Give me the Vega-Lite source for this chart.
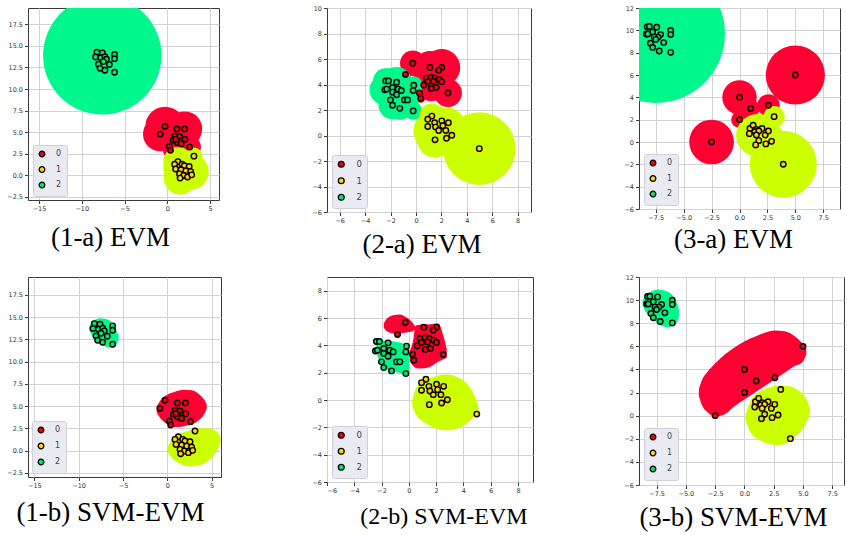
{
  "$schema": "https://vega.github.io/schema/vega-lite/v6.json",
  "padding": {"left": 6, "top": 4, "right": 0, "bottom": 0},
  "background": "white",
  "columns": 3,
  "align": "each",
  "bounds": "flush",
  "center": false,
  "spacing": {"row": 65, "column": 106},
  "resolve": {
    "scale": {"x": "independent", "y": "independent", "fill": "independent", "color": "independent", "size": "independent"},
    "legend": {"fill": "independent"}
  },
  "config": {
    "view": {"stroke": "#3a3a3a", "strokeWidth": 1},
    "axis": {"grid": true, "gridColor": "#d3d3d3", "gridWidth": 1, "domain": false, "tickColor": "#3a3a3a", "tickSize": 3.5, "labelFont": "DejaVu Sans", "labelFontSize": 6.5, "labelColor": "#333333", "labelPadding": 2},
    "title": {"font": "Liberation Serif", "fontSize": 27, "fontWeight": "normal", "color": "#000000", "orient": "bottom", "anchor": "middle", "baseline": "alphabetic"}
  },
  "datasets": {
    "pts1": [
      {"cls": "2", "x": -8.23, "y": 14.27}, {"cls": "2", "x": -7.59, "y": 14.19}, {"cls": "2", "x": -8.38, "y": 13.71}, {"cls": "2", "x": -7.78, "y": 13.63}, {"cls": "2", "x": -7.29, "y": 13.75}, {"cls": "2", "x": -7.11, "y": 13.45}, {"cls": "2", "x": -8.05, "y": 12.88}, {"cls": "2", "x": -7.48, "y": 13.18}, {"cls": "2", "x": -6.77, "y": 12.85}, {"cls": "2", "x": -6.17, "y": 14.01}, {"cls": "2", "x": -6.17, "y": 13.52}, {"cls": "2", "x": -7.86, "y": 12.4}, {"cls": "2", "x": -7.29, "y": 12.17}, {"cls": "2", "x": -6.17, "y": 11.95},
      {"cls": "0", "x": -0.26, "y": 5.66}, {"cls": "0", "x": -0.83, "y": 4.76}, {"cls": "0", "x": 1.13, "y": 5.36}, {"cls": "0", "x": 2.03, "y": 5.36}, {"cls": "0", "x": 0.86, "y": 4.53}, {"cls": "0", "x": 1.43, "y": 4.46}, {"cls": "0", "x": 1.73, "y": 4.01}, {"cls": "0", "x": 0.68, "y": 4.08}, {"cls": "0", "x": 1.17, "y": 3.78}, {"cls": "0", "x": 2.07, "y": 4.16}, {"cls": "0", "x": 1.62, "y": 3.63}, {"cls": "0", "x": 0.23, "y": 3.33}, {"cls": "0", "x": 0.38, "y": 2.88}, {"cls": "0", "x": 2.63, "y": 3.26}, {"cls": "0", "x": 0.98, "y": 4.16},
      {"cls": "1", "x": 1.24, "y": 1.57}, {"cls": "1", "x": 0.86, "y": 1.27}, {"cls": "1", "x": 0.98, "y": 0.71}, {"cls": "1", "x": 1.73, "y": 1.27}, {"cls": "1", "x": 1.99, "y": 1.09}, {"cls": "1", "x": 2.56, "y": 1.01}, {"cls": "1", "x": 1.62, "y": 0.64}, {"cls": "1", "x": 2.18, "y": 0.52}, {"cls": "1", "x": 2.74, "y": 0.41}, {"cls": "1", "x": 1.43, "y": 0.15}, {"cls": "1", "x": 1.92, "y": -0.04}, {"cls": "1", "x": 2.37, "y": -0.22}, {"cls": "1", "x": 2.86, "y": 0.04}, {"cls": "1", "x": 1.5, "y": -0.34}, {"cls": "1", "x": 3.12, "y": 2.21}
    ],
    "pts2": [
      {"cls": "0", "x": -0.25, "y": 5.67}, {"cls": "0", "x": -0.83, "y": 4.79}, {"cls": "0", "x": 1.1, "y": 5.33}, {"cls": "0", "x": 2.03, "y": 5.33}, {"cls": "0", "x": 1.79, "y": 5.11}, {"cls": "0", "x": 0.81, "y": 4.5}, {"cls": "0", "x": 1.18, "y": 4.55}, {"cls": "0", "x": 1.5, "y": 4.5}, {"cls": "0", "x": 1.84, "y": 4.38}, {"cls": "0", "x": 0.93, "y": 4.21}, {"cls": "0", "x": 1.37, "y": 4.25}, {"cls": "0", "x": 2.03, "y": 4.21}, {"cls": "0", "x": 0.61, "y": 3.96}, {"cls": "0", "x": 1.2, "y": 3.69}, {"cls": "0", "x": 1.59, "y": 3.77}, {"cls": "0", "x": 0.27, "y": 3.33}, {"cls": "0", "x": 0.37, "y": 2.91}, {"cls": "0", "x": 2.52, "y": 3.33},
      {"cls": "1", "x": 1.25, "y": 1.52}, {"cls": "1", "x": 0.93, "y": 1.27}, {"cls": "1", "x": 1.47, "y": 1.0}, {"cls": "1", "x": 2.03, "y": 1.15}, {"cls": "1", "x": 2.55, "y": 1.0}, {"cls": "1", "x": 0.93, "y": 0.71}, {"cls": "1", "x": 1.54, "y": 0.66}, {"cls": "1", "x": 2.11, "y": 0.76}, {"cls": "1", "x": 1.79, "y": 0.39}, {"cls": "1", "x": 2.35, "y": 0.39}, {"cls": "1", "x": 2.82, "y": 0.02}, {"cls": "1", "x": 1.5, "y": -0.34}, {"cls": "1", "x": 2.4, "y": -0.22}, {"cls": "1", "x": 4.98, "y": -1.03},
      {"cls": "2", "x": -2.38, "y": 4.28}, {"cls": "2", "x": -2.16, "y": 4.28}, {"cls": "2", "x": -1.52, "y": 4.18}, {"cls": "2", "x": -2.45, "y": 3.59}, {"cls": "2", "x": -2.3, "y": 3.64}, {"cls": "2", "x": -1.84, "y": 3.77}, {"cls": "2", "x": -1.4, "y": 3.64}, {"cls": "2", "x": -1.15, "y": 3.52}, {"cls": "2", "x": -1.84, "y": 3.4}, {"cls": "2", "x": -1.52, "y": 3.2}, {"cls": "2", "x": -0.17, "y": 3.94}, {"cls": "2", "x": -0.22, "y": 3.52}, {"cls": "2", "x": -2.01, "y": 2.79}, {"cls": "2", "x": -0.91, "y": 2.79}, {"cls": "2", "x": -0.66, "y": 2.79}, {"cls": "2", "x": -1.84, "y": 2.37}, {"cls": "2", "x": -1.27, "y": 2.13}, {"cls": "2", "x": -0.22, "y": 1.93}
    ],
    "pts3": [
      {"cls": "2", "x": -8.27, "y": 10.31}, {"cls": "2", "x": -8.07, "y": 10.34}, {"cls": "2", "x": -7.41, "y": 10.28}, {"cls": "2", "x": -7.78, "y": 9.85}, {"cls": "2", "x": -8.35, "y": 9.67}, {"cls": "2", "x": -8.21, "y": 9.67}, {"cls": "2", "x": -7.07, "y": 9.62}, {"cls": "2", "x": -7.3, "y": 9.39}, {"cls": "2", "x": -7.64, "y": 9.39}, {"cls": "2", "x": -7.5, "y": 9.19}, {"cls": "2", "x": -6.16, "y": 9.99}, {"cls": "2", "x": -6.16, "y": 9.62}, {"cls": "2", "x": -7.98, "y": 8.84}, {"cls": "2", "x": -6.79, "y": 8.9}, {"cls": "2", "x": -7.78, "y": 8.47}, {"cls": "2", "x": -7.19, "y": 8.15}, {"cls": "2", "x": -6.16, "y": 8.03},
      {"cls": "0", "x": -2.5, "y": 0.0}, {"cls": "0", "x": 0.0, "y": 4.0}, {"cls": "0", "x": 0.0, "y": 2.0}, {"cls": "0", "x": 1.0, "y": 3.0}, {"cls": "0", "x": 2.6, "y": 3.28}, {"cls": "0", "x": 5.0, "y": 6.0},
      {"cls": "1", "x": 0.94, "y": 1.21}, {"cls": "1", "x": 1.22, "y": 1.5}, {"cls": "1", "x": 1.51, "y": 1.12}, {"cls": "1", "x": 2.02, "y": 1.21}, {"cls": "1", "x": 0.88, "y": 0.75}, {"cls": "1", "x": 1.39, "y": 0.92}, {"cls": "1", "x": 1.73, "y": 0.98}, {"cls": "1", "x": 1.51, "y": 0.63}, {"cls": "1", "x": 2.3, "y": 0.63}, {"cls": "1", "x": 2.59, "y": 0.98}, {"cls": "1", "x": 1.73, "y": 0.12}, {"cls": "1", "x": 2.87, "y": 0.06}, {"cls": "1", "x": 1.45, "y": -0.26}, {"cls": "1", "x": 2.36, "y": -0.17}, {"cls": "1", "x": 3.92, "y": -1.99}, {"cls": "1", "x": 3.1, "y": 2.27}
    ],
    "balls1a": [
      {"region": "2", "x": -7.6, "y": 13.9, "r": 6.9},
      {"region": "0", "x": -0.26, "y": 5.66, "r": 2.3}, {"region": "0", "x": -0.83, "y": 4.76, "r": 2.0}, {"region": "0", "x": 2.03, "y": 5.36, "r": 2.05}, {"region": "0", "x": 1.13, "y": 5.36, "r": 1.8}, {"region": "0", "x": 2.63, "y": 3.26, "r": 1.3}, {"region": "0", "x": 0.38, "y": 2.88, "r": 0.9}, {"region": "0", "x": 1.17, "y": 3.78, "r": 1.5},
      {"region": "1", "x": 1.24, "y": 1.57, "r": 1.7}, {"region": "1", "x": 2.74, "y": 0.41, "r": 2.1}, {"region": "1", "x": 1.5, "y": -0.34, "r": 1.9}, {"region": "1", "x": 3.12, "y": 2.21, "r": 1.0}, {"region": "1", "x": 0.98, "y": 0.71, "r": 1.45}
    ],
    "balls2a": [
      {"region": "0", "x": -0.25, "y": 5.67, "r": 1.0}, {"region": "0", "x": -0.83, "y": 4.79, "r": 0.45}, {"region": "0", "x": 1.1, "y": 5.33, "r": 1.3}, {"region": "0", "x": 2.03, "y": 5.33, "r": 1.45}, {"region": "0", "x": 1.79, "y": 5.11, "r": 1.0}, {"region": "0", "x": 0.81, "y": 4.5, "r": 1.0}, {"region": "0", "x": 1.5, "y": 4.5, "r": 1.0}, {"region": "0", "x": 1.84, "y": 4.38, "r": 1.0}, {"region": "0", "x": 0.93, "y": 4.21, "r": 1.0}, {"region": "0", "x": 2.03, "y": 4.21, "r": 1.0}, {"region": "0", "x": 0.61, "y": 3.96, "r": 0.9}, {"region": "0", "x": 1.2, "y": 3.69, "r": 1.0}, {"region": "0", "x": 1.59, "y": 3.77, "r": 1.0}, {"region": "0", "x": 0.27, "y": 3.33, "r": 0.6}, {"region": "0", "x": 0.37, "y": 2.91, "r": 0.35}, {"region": "0", "x": 2.52, "y": 3.33, "r": 1.1},
      {"region": "2", "x": -2.38, "y": 4.28, "r": 1.0}, {"region": "2", "x": -2.16, "y": 4.28, "r": 1.0}, {"region": "2", "x": -1.52, "y": 4.18, "r": 1.2}, {"region": "2", "x": -2.45, "y": 3.59, "r": 1.2}, {"region": "2", "x": -2.3, "y": 3.64, "r": 1.0}, {"region": "2", "x": -1.84, "y": 3.77, "r": 1.0}, {"region": "2", "x": -1.4, "y": 3.64, "r": 1.0}, {"region": "2", "x": -1.15, "y": 3.52, "r": 1.0}, {"region": "2", "x": -1.84, "y": 3.4, "r": 1.0}, {"region": "2", "x": -1.52, "y": 3.2, "r": 1.0}, {"region": "2", "x": -0.17, "y": 3.94, "r": 0.7}, {"region": "2", "x": -0.22, "y": 3.52, "r": 0.7}, {"region": "2", "x": -2.01, "y": 2.79, "r": 1.0}, {"region": "2", "x": -0.91, "y": 2.79, "r": 1.0}, {"region": "2", "x": -0.66, "y": 2.79, "r": 0.9}, {"region": "2", "x": -1.84, "y": 2.37, "r": 1.1}, {"region": "2", "x": -1.27, "y": 2.13, "r": 0.9}, {"region": "2", "x": -0.22, "y": 1.93, "r": 0.7},
      {"region": "1", "x": 4.98, "y": -1.03, "r": 2.85}, {"region": "1", "x": 1.25, "y": 1.52, "r": 1.0}, {"region": "1", "x": 1.45, "y": 0.35, "r": 1.65}, {"region": "1", "x": 1.5, "y": -0.34, "r": 1.4}, {"region": "1", "x": 2.4, "y": 0.7, "r": 1.5}
    ],
    "balls3a": [
      {"region": "2", "x": -7.5, "y": 9.7, "r": 6.2},
      {"region": "0", "x": 5.0, "y": 6.0, "r": 2.65}, {"region": "0", "x": -2.5, "y": 0.0, "r": 2.0}, {"region": "0", "x": 0.0, "y": 4.0, "r": 1.54}, {"region": "0", "x": 0.0, "y": 2.0, "r": 0.75}, {"region": "0", "x": 1.0, "y": 3.0, "r": 0.8}, {"region": "0", "x": 2.6, "y": 3.28, "r": 1.0},
      {"region": "1", "x": 3.92, "y": -1.99, "r": 3.0}, {"region": "1", "x": 1.6, "y": 0.6, "r": 1.9}, {"region": "1", "x": 3.1, "y": 2.27, "r": 0.95}, {"region": "1", "x": 2.3, "y": 0.4, "r": 1.6}
    ],
    "hull1b": [
      {"region": "2", "blob": "g", "x": -8.8, "lo": 13.5, "hi": 14.0}, {"region": "2", "blob": "g", "x": -8.35, "lo": 12.77, "hi": 14.57}, {"region": "2", "blob": "g", "x": -7.59, "lo": 12.13, "hi": 14.87}, {"region": "2", "blob": "g", "x": -6.84, "lo": 11.65, "hi": 14.76}, {"region": "2", "blob": "g", "x": -6.09, "lo": 11.57, "hi": 14.19}, {"region": "2", "blob": "g", "x": -5.64, "lo": 12.13, "hi": 13.26}, {"region": "2", "blob": "g", "x": -5.49, "lo": 12.45, "hi": 12.95},
      {"region": "0", "blob": "r", "x": -1.2, "lo": 4.3, "hi": 4.95}, {"region": "0", "blob": "r", "x": -0.83, "lo": 3.71, "hi": 5.58}, {"region": "0", "blob": "r", "x": -0.08, "lo": 3.03, "hi": 6.25}, {"region": "0", "blob": "r", "x": 0.86, "lo": 2.66, "hi": 6.63}, {"region": "0", "blob": "r", "x": 1.8, "lo": 2.73, "hi": 6.85}, {"region": "0", "blob": "r", "x": 2.74, "lo": 2.96, "hi": 6.78}, {"region": "0", "blob": "r", "x": 3.68, "lo": 3.52, "hi": 6.25}, {"region": "0", "blob": "r", "x": 4.25, "lo": 4.27, "hi": 5.58}, {"region": "0", "blob": "r", "x": 4.44, "lo": 4.7, "hi": 5.2},
      {"region": "1", "blob": "y", "x": 0.04, "lo": -0.15, "hi": 0.45}, {"region": "1", "blob": "y", "x": 0.49, "lo": -0.79, "hi": 1.27}, {"region": "1", "blob": "y", "x": 1.43, "lo": -1.46, "hi": 1.91}, {"region": "1", "blob": "y", "x": 2.56, "lo": -1.76, "hi": 2.28}, {"region": "1", "blob": "y", "x": 3.68, "lo": -1.61, "hi": 2.51}, {"region": "1", "blob": "y", "x": 4.81, "lo": -0.97, "hi": 2.51}, {"region": "1", "blob": "y", "x": 5.56, "lo": -0.04, "hi": 2.13}, {"region": "1", "blob": "y", "x": 6.0, "lo": 0.9, "hi": 1.6}
    ],
    "hull2b": [
      {"region": "0", "blob": "r1", "x": -1.84, "lo": 5.3, "hi": 5.6}, {"region": "0", "blob": "r1", "x": -1.64, "lo": 5.04, "hi": 5.92}, {"region": "0", "blob": "r1", "x": -1.15, "lo": 4.87, "hi": 6.21}, {"region": "0", "blob": "r1", "x": -0.66, "lo": 4.87, "hi": 6.26}, {"region": "0", "blob": "r1", "x": -0.17, "lo": 4.94, "hi": 6.04}, {"region": "0", "blob": "r1", "x": 0.32, "lo": 5.04, "hi": 5.6}, {"region": "0", "blob": "r1", "x": 0.47, "lo": 5.2, "hi": 5.36},
      {"region": "0", "blob": "r2", "x": 0.07, "lo": 2.84, "hi": 3.6}, {"region": "0", "blob": "r2", "x": 0.3, "lo": 2.5, "hi": 4.3}, {"region": "0", "blob": "r2", "x": 0.5, "lo": 2.35, "hi": 5.45}, {"region": "0", "blob": "r2", "x": 0.81, "lo": 2.3, "hi": 5.5}, {"region": "0", "blob": "r2", "x": 1.54, "lo": 2.42, "hi": 5.55}, {"region": "0", "blob": "r2", "x": 2.16, "lo": 2.79, "hi": 5.6}, {"region": "0", "blob": "r2", "x": 2.52, "lo": 2.98, "hi": 4.74}, {"region": "0", "blob": "r2", "x": 2.77, "lo": 3.08, "hi": 3.77},
      {"region": "2", "blob": "g", "x": -2.38, "lo": 3.4, "hi": 4.38}, {"region": "2", "blob": "g", "x": -2.01, "lo": 2.67, "hi": 4.38}, {"region": "2", "blob": "g", "x": -1.52, "lo": 2.18, "hi": 4.33}, {"region": "2", "blob": "g", "x": -0.91, "lo": 2.05, "hi": 4.25}, {"region": "2", "blob": "g", "x": -0.42, "lo": 1.86, "hi": 4.13}, {"region": "2", "blob": "g", "x": 0.02, "lo": 1.76, "hi": 3.77},
      {"region": "1", "blob": "y", "x": 0.25, "lo": -0.45, "hi": -0.05}, {"region": "1", "blob": "y", "x": 0.56, "lo": -1.12, "hi": 0.95}, {"region": "1", "blob": "y", "x": 1.3, "lo": -1.74, "hi": 1.49}, {"region": "1", "blob": "y", "x": 2.03, "lo": -2.1, "hi": 1.76}, {"region": "1", "blob": "y", "x": 2.77, "lo": -2.22, "hi": 1.86}, {"region": "1", "blob": "y", "x": 3.5, "lo": -2.1, "hi": 1.69}, {"region": "1", "blob": "y", "x": 4.24, "lo": -1.74, "hi": 1.2}, {"region": "1", "blob": "y", "x": 4.85, "lo": -1.12, "hi": 0.22}, {"region": "1", "blob": "y", "x": 5.1, "lo": -0.8, "hi": -0.45}
    ],
    "hull3b": [
      {"region": "2", "blob": "g", "x": -8.69, "lo": 9.55, "hi": 9.95}, {"region": "2", "blob": "g", "x": -8.49, "lo": 9.1, "hi": 10.34}, {"region": "2", "blob": "g", "x": -7.93, "lo": 8.47, "hi": 10.77}, {"region": "2", "blob": "g", "x": -7.36, "lo": 7.95, "hi": 10.91}, {"region": "2", "blob": "g", "x": -6.65, "lo": 7.66, "hi": 10.77}, {"region": "2", "blob": "g", "x": -6.08, "lo": 7.75, "hi": 10.34}, {"region": "2", "blob": "g", "x": -5.71, "lo": 8.18, "hi": 9.62}, {"region": "2", "blob": "g", "x": -5.57, "lo": 8.7, "hi": 9.1},
      {"region": "0", "blob": "r", "x": -3.89, "lo": 1.7, "hi": 2.3}, {"region": "0", "blob": "r", "x": -3.66, "lo": 0.98, "hi": 2.99}, {"region": "0", "blob": "r", "x": -3.1, "lo": 0.26, "hi": 3.86}, {"region": "0", "blob": "r", "x": -2.53, "lo": -0.09, "hi": 4.49}, {"region": "0", "blob": "r", "x": -1.68, "lo": 0.12, "hi": 5.3}, {"region": "0", "blob": "r", "x": -0.82, "lo": 0.84, "hi": 5.93}, {"region": "0", "blob": "r", "x": 0.03, "lo": 1.41, "hi": 6.45}, {"region": "0", "blob": "r", "x": 0.88, "lo": 1.99, "hi": 6.82}, {"region": "0", "blob": "r", "x": 1.73, "lo": 2.56, "hi": 7.17}, {"region": "0", "blob": "r", "x": 2.59, "lo": 3.14, "hi": 7.37}, {"region": "0", "blob": "r", "x": 3.44, "lo": 3.71, "hi": 7.31}, {"region": "0", "blob": "r", "x": 4.29, "lo": 4.29, "hi": 6.88}, {"region": "0", "blob": "r", "x": 4.91, "lo": 4.58, "hi": 6.31}, {"region": "0", "blob": "r", "x": 5.28, "lo": 5.3, "hi": 5.9},
      {"region": "1", "blob": "y", "x": 0.09, "lo": -0.4, "hi": 0.05}, {"region": "1", "blob": "y", "x": 0.45, "lo": -1.32, "hi": 1.12}, {"region": "1", "blob": "y", "x": 1.16, "lo": -2.04, "hi": 1.99}, {"region": "1", "blob": "y", "x": 2.02, "lo": -2.42, "hi": 2.42}, {"region": "1", "blob": "y", "x": 2.87, "lo": -2.53, "hi": 2.62}, {"region": "1", "blob": "y", "x": 3.72, "lo": -2.33, "hi": 2.56}, {"region": "1", "blob": "y", "x": 4.57, "lo": -1.61, "hi": 2.19}, {"region": "1", "blob": "y", "x": 5.28, "lo": -0.6, "hi": 1.41}, {"region": "1", "blob": "y", "x": 5.6, "lo": 0.2, "hi": 0.6}
    ]
  },
  "concat": [
    {
      "width": 191, "height": 192,
      "title": {"text": "(1-a) EVM", "dx": -13, "offset": 13},
      "resolve": {"scale": {"fill": "independent", "color": "independent", "size": "independent"}},
      "layer": [
        {"data": {"name": "balls1a"}, "mark": {"type": "circle", "clip": true, "opacity": 1},
         "encoding": {
           "x": {"field": "x", "type": "quantitative", "scale": {"domain": [-16.29, 6.05], "nice": false, "zero": false}, "axis": {"values": [-15, -10, -5, 0, 5], "format": "d", "labelOverlap": false}, "title": null},
           "y": {"field": "y", "type": "quantitative", "scale": {"domain": [-2.88, 19.4], "nice": false, "zero": false}, "axis": {"values": [-2.5, 0, 2.5, 5, 7.5, 10, 12.5, 15, 17.5], "format": ".1f", "labelOverlap": false}, "title": null},
           "size": {"field": "r", "type": "quantitative", "scale": {"type": "pow", "exponent": 2, "domain": [0, 1], "range": [0, 294.5]}, "legend": null},
           "color": {"field": "region", "type": "nominal", "scale": {"domain": ["0", "1", "2"], "range": ["#ff0033", "#ccff00", "#00f78c"]}, "legend": null}
         }},
        {"data": {"name": "pts1"}, "mark": {"type": "point", "filled": true, "stroke": "#000000", "strokeWidth": 1.4, "size": 30, "opacity": 1},
         "encoding": {
           "x": {"field": "x", "type": "quantitative", "scale": {"domain": [-16.29, 6.05], "nice": false, "zero": false}, "axis": {"values": [-15, -10, -5, 0, 5], "format": "d", "labelOverlap": false}, "title": null},
           "y": {"field": "y", "type": "quantitative", "scale": {"domain": [-2.88, 19.4], "nice": false, "zero": false}, "axis": {"values": [-2.5, 0, 2.5, 5, 7.5, 10, 12.5, 15, 17.5], "format": ".1f", "labelOverlap": false}, "title": null},
           "fill": {"field": "cls", "type": "nominal", "scale": {"domain": ["0", "1", "2"], "range": ["#f00000", "#ffd500", "#00e868"]},
             "legend": {"title": null, "orient": "bottom-left", "offset": 4.5, "fillColor": "#eaeaf2", "strokeColor": "#d0d0da", "cornerRadius": 2, "padding": 5, "symbolSize": 32, "symbolStrokeColor": "#000000", "symbolStrokeWidth": 1.3, "labelFont": "DejaVu Sans", "labelFontSize": 8, "labelColor": "#444444", "rowPadding": 3.5, "labelOffset": 10}}
         }}
      ]
    },
    {
      "width": 204, "height": 204,
      "title": {"text": "(2-a) EVM", "dx": -7, "offset": 8},
      "resolve": {"scale": {"fill": "independent", "color": "independent", "size": "independent"}},
      "layer": [
        {"data": {"name": "balls2a"}, "mark": {"type": "circle", "clip": true, "opacity": 1},
         "encoding": {
           "x": {"field": "x", "type": "quantitative", "scale": {"domain": [-7, 9.05], "nice": false, "zero": false}, "axis": {"values": [-6, -4, -2, 0, 2, 4, 6, 8], "format": "d", "labelOverlap": false}, "title": null},
           "y": {"field": "y", "type": "quantitative", "scale": {"domain": [-6, 10], "nice": false, "zero": false}, "axis": {"values": [-6, -4, -2, 0, 2, 4, 6, 8, 10], "format": "d", "labelOverlap": false}, "title": null},
           "size": {"field": "r", "type": "quantitative", "scale": {"type": "pow", "exponent": 2, "domain": [0, 1], "range": [0, 648]}, "legend": null},
           "color": {"field": "region", "type": "nominal", "scale": {"domain": ["0", "1", "2"], "range": ["#ff0033", "#ccff00", "#00f78c"]}, "legend": null}
         }},
        {"data": {"name": "pts2"}, "mark": {"type": "point", "filled": true, "stroke": "#000000", "strokeWidth": 1.4, "size": 30, "opacity": 1},
         "encoding": {
           "x": {"field": "x", "type": "quantitative", "scale": {"domain": [-7, 9.05], "nice": false, "zero": false}, "axis": {"values": [-6, -4, -2, 0, 2, 4, 6, 8], "format": "d", "labelOverlap": false}, "title": null},
           "y": {"field": "y", "type": "quantitative", "scale": {"domain": [-6, 10], "nice": false, "zero": false}, "axis": {"values": [-6, -4, -2, 0, 2, 4, 6, 8, 10], "format": "d", "labelOverlap": false}, "title": null},
           "fill": {"field": "cls", "type": "nominal", "scale": {"domain": ["0", "1", "2"], "range": ["#f00000", "#ffd500", "#00e868"]},
             "legend": {"title": null, "orient": "bottom-left", "offset": 4.5, "fillColor": "#eaeaf2", "strokeColor": "#d0d0da", "cornerRadius": 2, "padding": 5, "symbolSize": 34, "symbolStrokeColor": "#000000", "symbolStrokeWidth": 1.3, "labelFont": "DejaVu Sans", "labelFontSize": 8.5, "labelColor": "#444444", "rowPadding": 4.5, "labelOffset": 11}}
         }}
      ]
    },
    {
      "width": 201, "height": 201,
      "title": {"text": "(3-a) EVM", "dx": -6, "offset": 6},
      "resolve": {"scale": {"fill": "independent", "color": "independent", "size": "independent"}},
      "layer": [
        {"data": {"name": "balls3a"}, "mark": {"type": "circle", "clip": true, "opacity": 1},
         "encoding": {
           "x": {"field": "x", "type": "quantitative", "scale": {"domain": [-9, 9], "nice": false, "zero": false}, "axis": {"values": [-7.5, -5, -2.5, 0, 2.5, 5, 7.5], "format": ".1f", "labelOverlap": false}, "title": null},
           "y": {"field": "y", "type": "quantitative", "scale": {"domain": [-6, 12], "nice": false, "zero": false}, "axis": {"values": [-6, -4, -2, 0, 2, 4, 6, 8, 10, 12], "format": "d", "labelOverlap": false}, "title": null},
           "size": {"field": "r", "type": "quantitative", "scale": {"type": "pow", "exponent": 2, "domain": [0, 1], "range": [0, 499]}, "legend": null},
           "color": {"field": "region", "type": "nominal", "scale": {"domain": ["0", "1", "2"], "range": ["#ff0033", "#ccff00", "#00f78c"]}, "legend": null}
         }},
        {"data": {"name": "pts3"}, "mark": {"type": "point", "filled": true, "stroke": "#000000", "strokeWidth": 1.4, "size": 30, "opacity": 1},
         "encoding": {
           "x": {"field": "x", "type": "quantitative", "scale": {"domain": [-9, 9], "nice": false, "zero": false}, "axis": {"values": [-7.5, -5, -2.5, 0, 2.5, 5, 7.5], "format": ".1f", "labelOverlap": false}, "title": null},
           "y": {"field": "y", "type": "quantitative", "scale": {"domain": [-6, 12], "nice": false, "zero": false}, "axis": {"values": [-6, -4, -2, 0, 2, 4, 6, 8, 10, 12], "format": "d", "labelOverlap": false}, "title": null},
           "fill": {"field": "cls", "type": "nominal", "scale": {"domain": ["0", "1", "2"], "range": ["#f00000", "#ffd500", "#00e868"]},
             "legend": {"title": null, "orient": "bottom-left", "offset": 4.5, "fillColor": "#eaeaf2", "strokeColor": "#d0d0da", "cornerRadius": 2, "padding": 5, "symbolSize": 32, "symbolStrokeColor": "#000000", "symbolStrokeWidth": 1.3, "labelFont": "DejaVu Sans", "labelFontSize": 8, "labelColor": "#444444", "rowPadding": 3.5, "labelOffset": 10}}
         }}
      ]
    },
    {
      "width": 193, "height": 200,
      "title": {"text": "(1-b) SVM-EVM", "dx": -14, "offset": 11},
      "resolve": {"scale": {"fill": "independent", "color": "independent"}},
      "layer": [
        {"data": {"name": "hull1b"}, "mark": {"type": "area", "clip": true, "interpolate": "monotone", "opacity": 1},
         "encoding": {
           "x": {"field": "x", "type": "quantitative", "scale": {"domain": [-15.71, 6.05], "nice": false, "zero": false}, "axis": {"values": [-15, -10, -5, 0, 5], "format": "d", "labelOverlap": false}, "title": null},
           "y": {"field": "hi", "type": "quantitative", "scale": {"domain": [-2.95, 19.5], "nice": false, "zero": false}, "axis": {"values": [-2.5, 0, 2.5, 5, 7.5, 10, 12.5, 15, 17.5], "format": ".1f", "labelOverlap": false}, "title": null},
           "y2": {"field": "lo"},
           "detail": {"field": "blob"},
           "color": {"field": "region", "type": "nominal", "scale": {"domain": ["0", "1", "2"], "range": ["#ff0033", "#ccff00", "#00f78c"]}, "legend": null}
         }},
        {"data": {"name": "pts1"}, "mark": {"type": "point", "filled": true, "stroke": "#000000", "strokeWidth": 1.4, "size": 30, "opacity": 1},
         "encoding": {
           "x": {"field": "x", "type": "quantitative", "scale": {"domain": [-15.71, 6.05], "nice": false, "zero": false}, "axis": {"values": [-15, -10, -5, 0, 5], "format": "d", "labelOverlap": false}, "title": null},
           "y": {"field": "y", "type": "quantitative", "scale": {"domain": [-2.95, 19.5], "nice": false, "zero": false}, "axis": {"values": [-2.5, 0, 2.5, 5, 7.5, 10, 12.5, 15, 17.5], "format": ".1f", "labelOverlap": false}, "title": null},
           "fill": {"field": "cls", "type": "nominal", "scale": {"domain": ["0", "1", "2"], "range": ["#f00000", "#ffd500", "#00e868"]},
             "legend": {"title": null, "orient": "bottom-left", "offset": 4, "fillColor": "#eaeaf2", "strokeColor": "#d0d0da", "cornerRadius": 2, "padding": 5, "symbolSize": 32, "symbolStrokeColor": "#000000", "symbolStrokeWidth": 1.3, "labelFont": "DejaVu Sans", "labelFontSize": 8, "labelColor": "#444444", "rowPadding": 4, "labelOffset": 10}}
         }}
      ]
    },
    {
      "width": 206, "height": 205,
      "title": {"text": "(2-b) SVM-EVM", "dx": 14, "offset": 11, "fontSize": 24},
      "resolve": {"scale": {"fill": "independent", "color": "independent"}},
      "layer": [
        {"data": {"name": "hull2b"}, "mark": {"type": "area", "clip": true, "interpolate": "monotone", "opacity": 1},
         "encoding": {
           "x": {"field": "x", "type": "quantitative", "scale": {"domain": [-6, 9.1], "nice": false, "zero": false}, "axis": {"values": [-6, -4, -2, 0, 2, 4, 6, 8], "format": "d", "labelOverlap": false}, "title": null},
           "y": {"field": "hi", "type": "quantitative", "scale": {"domain": [-6, 9], "nice": false, "zero": false}, "axis": {"values": [-6, -4, -2, 0, 2, 4, 6, 8], "format": "d", "labelOverlap": false}, "title": null},
           "y2": {"field": "lo"},
           "detail": {"field": "blob"},
           "color": {"field": "region", "type": "nominal", "scale": {"domain": ["0", "1", "2"], "range": ["#ff0033", "#ccff00", "#00f78c"]}, "legend": null}
         }},
        {"data": {"name": "pts2"}, "mark": {"type": "point", "filled": true, "stroke": "#000000", "strokeWidth": 1.4, "size": 30, "opacity": 1},
         "encoding": {
           "x": {"field": "x", "type": "quantitative", "scale": {"domain": [-6, 9.1], "nice": false, "zero": false}, "axis": {"values": [-6, -4, -2, 0, 2, 4, 6, 8], "format": "d", "labelOverlap": false}, "title": null},
           "y": {"field": "y", "type": "quantitative", "scale": {"domain": [-6, 9], "nice": false, "zero": false}, "axis": {"values": [-6, -4, -2, 0, 2, 4, 6, 8], "format": "d", "labelOverlap": false}, "title": null},
           "fill": {"field": "cls", "type": "nominal", "scale": {"domain": ["0", "1", "2"], "range": ["#f00000", "#ffd500", "#00e868"]},
             "legend": {"title": null, "orient": "bottom-left", "offset": 4.5, "fillColor": "#eaeaf2", "strokeColor": "#d0d0da", "cornerRadius": 2, "padding": 5, "symbolSize": 34, "symbolStrokeColor": "#000000", "symbolStrokeWidth": 1.3, "labelFont": "DejaVu Sans", "labelFontSize": 8.5, "labelColor": "#444444", "rowPadding": 4, "labelOffset": 11}}
         }}
      ]
    },
    {
      "width": 205, "height": 208,
      "title": {"text": "(3-b) SVM-EVM", "dx": -8, "offset": 8},
      "resolve": {"scale": {"fill": "independent", "color": "independent"}},
      "layer": [
        {"data": {"name": "hull3b"}, "mark": {"type": "area", "clip": true, "interpolate": "monotone", "opacity": 1},
         "encoding": {
           "x": {"field": "x", "type": "quantitative", "scale": {"domain": [-9, 8.5], "nice": false, "zero": false}, "axis": {"values": [-7.5, -5, -2.5, 0, 2.5, 5, 7.5], "format": ".1f", "labelOverlap": false}, "title": null},
           "y": {"field": "hi", "type": "quantitative", "scale": {"domain": [-6, 12], "nice": false, "zero": false}, "axis": {"values": [-6, -4, -2, 0, 2, 4, 6, 8, 10, 12], "format": "d", "labelOverlap": false}, "title": null},
           "y2": {"field": "lo"},
           "detail": {"field": "blob"},
           "color": {"field": "region", "type": "nominal", "scale": {"domain": ["0", "1", "2"], "range": ["#ff0033", "#ccff00", "#00f78c"]}, "legend": null}
         }},
        {"data": {"name": "pts3"}, "mark": {"type": "point", "filled": true, "stroke": "#000000", "strokeWidth": 1.4, "size": 30, "opacity": 1},
         "encoding": {
           "x": {"field": "x", "type": "quantitative", "scale": {"domain": [-9, 8.5], "nice": false, "zero": false}, "axis": {"values": [-7.5, -5, -2.5, 0, 2.5, 5, 7.5], "format": ".1f", "labelOverlap": false}, "title": null},
           "y": {"field": "y", "type": "quantitative", "scale": {"domain": [-6, 12], "nice": false, "zero": false}, "axis": {"values": [-6, -4, -2, 0, 2, 4, 6, 8, 10, 12], "format": "d", "labelOverlap": false}, "title": null},
           "fill": {"field": "cls", "type": "nominal", "scale": {"domain": ["0", "1", "2"], "range": ["#f00000", "#ffd500", "#00e868"]},
             "legend": {"title": null, "orient": "bottom-left", "offset": 5, "fillColor": "#eaeaf2", "strokeColor": "#d0d0da", "cornerRadius": 2, "padding": 5, "symbolSize": 32, "symbolStrokeColor": "#000000", "symbolStrokeWidth": 1.3, "labelFont": "DejaVu Sans", "labelFontSize": 8, "labelColor": "#444444", "rowPadding": 4, "labelOffset": 10}}
         }}
      ]
    }
  ]
}
